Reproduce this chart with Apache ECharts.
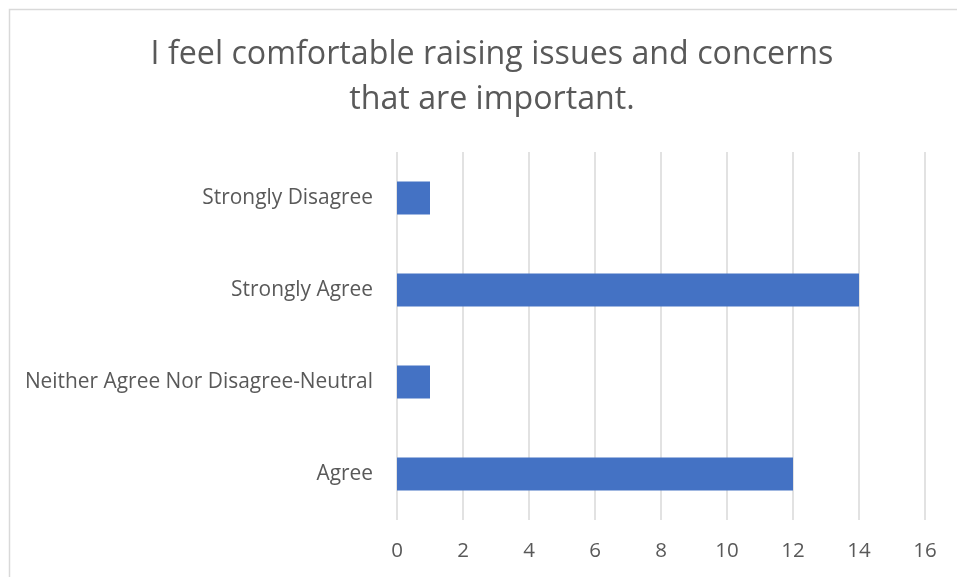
<!DOCTYPE html>
<html>
<head>
<meta charset="utf-8">
<script src="https://cdn.jsdelivr.net/npm/echarts@6/dist/echarts.min.js"></script>
<style>html,body{margin:0;padding:0;background:#fff;}#c{width:957px;height:577px;}</style>
</head>
<body>
<div id="c"></div>
<script>
const titleText = "I feel comfortable raising issues and concerns\nthat are important.";
const categories = ["Agree", "Neither Agree Nor Disagree-Neutral", "Strongly Agree", "Strongly Disagree"];
const values = [12, 1, 14, 1];
const xTicks = {min: 0, max: 16, interval: 2};

const chart = echarts.init(document.getElementById('c'), null, {renderer: 'canvas'});
chart.setOption({
  animation: false,
  backgroundColor: '#fff',
  graphic: [{
    type: 'rect', left: 7, top: 7, shape: {x: 0, y: 0, width: 1000, height: 600},
    style: {fill: 'none', stroke: '#d9d9d9', lineWidth: 1.5}, z: -1
  }],
  title: {
    text: titleText, left: 487, top: 27, textAlign: 'center',
    textStyle: {fontFamily: 'Open Sans', fontWeight: 'normal', fontSize: 32.2, color: '#595959', lineHeight: 45}
  },
  grid: {left: 397, right: 32, top: 152, bottom: 57, containLabel: false},
  xAxis: {
    type: 'value', min: xTicks.min, max: xTicks.max, interval: xTicks.interval,
    axisLine: {show: false}, axisTick: {show: false},
    splitLine: {show: true, lineStyle: {color: '#d9d9d9', width: 1.5}},
    axisLabel: {fontFamily: 'Open Sans', fontSize: 20.5, color: '#595959', margin: 21}
  },
  yAxis: {
    type: 'category', data: categories,
    axisLine: {show: false}, axisTick: {show: false},
    axisLabel: {fontFamily: 'Open Sans', fontSize: 20.9, color: '#595959', margin: 24}
  },
  series: [{
    type: 'bar', data: values, barWidth: 33,
    itemStyle: {color: '#4472C4'}
  }]
});
</script>
</body>
</html>
